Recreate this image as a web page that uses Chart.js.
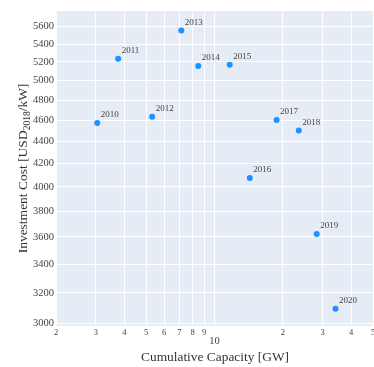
<!DOCTYPE html>
<html>
<head>
<meta charset="utf-8">
<script src="https://cdn.jsdelivr.net/npm/chart.js@4/dist/chart.umd.min.js"></script>
<style>
  html, body { margin: 0; padding: 0; background: #fff; overflow: hidden; }
  #wrap { width: 374px; height: 367px; overflow: hidden; }
  canvas { display: block; }
</style>
</head>
<body>
<div id="wrap"><canvas id="chart" width="376" height="367"></canvas></div>
<script>
// Cumulative installed capacity (GW) and investment cost (USD2018/kW) per year
const years = ['2010', '2011', '2012', '2013', '2014', '2015', '2016', '2017', '2018', '2019', '2020'];
const capacityGW = [3.04, 3.76, 5.31, 7.14, 8.48, 11.67, 14.31, 18.79, 23.54, 28.23, 34.18];
const costUSD = [4573, 5236, 4634, 5556, 5156, 5170, 4074, 4602, 4502, 3622, 3096];

// Axis ticks
const xTickValues = [2, 3, 4, 5, 6, 7, 8, 9, 10, 20, 30, 40, 50];
const xTickLabels = ['2', '3', '4', '5', '6', '7', '8', '9', '10', '2', '3', '4', '5'];
const yTickValues = [3000, 3200, 3400, 3600, 3800, 4000, 4200, 4400, 4600, 4800, 5000, 5200, 5400, 5600];

const SERIF = '"Liberation Serif", "Times New Roman", serif';
const PLOT_BG = '#E5ECF6';
const DOT = '#1E90FF';

const points = capacityGW.map((x, i) => ({ x: x, y: costUSD[i] }));

const plotBackground = {
  id: 'plotBackground',
  beforeDraw(chart) {
    const { ctx, chartArea: a } = chart;
    ctx.save();
    ctx.fillStyle = PLOT_BG;
    ctx.fillRect(a.left, a.top, a.right - a.left, a.bottom - a.top);
    ctx.restore();
  }
};

const decorations = {
  id: 'decorations',
  afterDatasetsDraw(chart) {
    const { ctx, chartArea: a } = chart;
    const xs = chart.scales.x;
    ctx.save();

    // year labels next to each point
    const meta = chart.getDatasetMeta(0);
    ctx.font = '9px ' + SERIF;
    ctx.fillStyle = '#444';
    ctx.textAlign = 'left';
    ctx.textBaseline = 'middle';
    meta.data.forEach((el, i) => {
      ctx.fillText(years[i], el.x + 3.5, el.y - 8);
    });

    // x tick labels (decade label set larger and lower)
    ctx.textAlign = 'center';
    xTickValues.forEach((v, i) => {
      const px = xs.getPixelForValue(v);
      if (v === 10) {
        ctx.font = '10.5px ' + SERIF;
        ctx.fillText(xTickLabels[i], px, a.bottom + 15.5);
      } else {
        ctx.font = '8.5px ' + SERIF;
        ctx.fillText(xTickLabels[i], px, a.bottom + 6.5);
      }
    });

    // x axis title
    ctx.fillStyle = '#333';
    ctx.font = '13.4px ' + SERIF;
    ctx.fillText('Cumulative Capacity [GW]', (a.left + 374) / 2, 357.5);

    // y axis title with subscript
    const main1 = 'Investment Cost [USD';
    const sub = '2018';
    const main2 = '/kW]';
    const mainFont = '13.5px ' + SERIF;
    const subFont = '9.5px ' + SERIF;
    ctx.font = mainFont;
    const w1 = ctx.measureText(main1).width;
    const w3 = ctx.measureText(main2).width;
    ctx.font = subFont;
    const w2 = ctx.measureText(sub).width;
    const total = w1 + w2 + w3;
    ctx.translate(22, (a.top + a.bottom) / 2);
    ctx.rotate(-Math.PI / 2);
    ctx.textAlign = 'left';
    ctx.textBaseline = 'alphabetic';
    let cx = -total / 2;
    const base = 4.5;
    ctx.font = mainFont;
    ctx.fillText(main1, cx, base);
    cx += w1;
    ctx.font = subFont;
    ctx.fillText(sub, cx, base + 3);
    cx += w2;
    ctx.font = mainFont;
    ctx.fillText(main2, cx, base);
    ctx.restore();
  }
};

new Chart(document.getElementById('chart'), {
  type: 'scatter',
  data: {
    datasets: [{
      data: points,
      backgroundColor: DOT,
      borderWidth: 0,
      pointRadius: 3,
      pointHoverRadius: 3
    }]
  },
  options: {
    responsive: false,
    animation: false,
    events: [],
    layout: { padding: { top: 11, right: 0, bottom: 0, left: 0 } },
    plugins: {
      legend: { display: false },
      tooltip: { enabled: false }
    },
    scales: {
      x: {
        type: 'logarithmic',
        min: 2,
        max: 50,
        afterBuildTicks(scale) {
          scale.ticks = xTickValues.map(v => ({ value: v }));
        },
        afterFit(scale) { scale.height = 41; },
        border: { display: false },
        grid: { color: '#ffffff', lineWidth: 1, drawTicks: false },
        ticks: { display: false }
      },
      y: {
        type: 'logarithmic',
        min: 2985,
        max: 5788,
        afterBuildTicks(scale) {
          scale.ticks = yTickValues.map(v => ({ value: v }));
        },
        afterFit(scale) { scale.width = 56; },
        border: { display: false },
        grid: { color: '#ffffff', lineWidth: 1, drawTicks: false },
        ticks: {
          padding: 2,
          color: '#444',
          font: { family: SERIF, size: 10.5 },
          callback: (v) => String(v)
        }
      }
    }
  },
  plugins: [plotBackground, decorations]
});
</script>
</body>
</html>
